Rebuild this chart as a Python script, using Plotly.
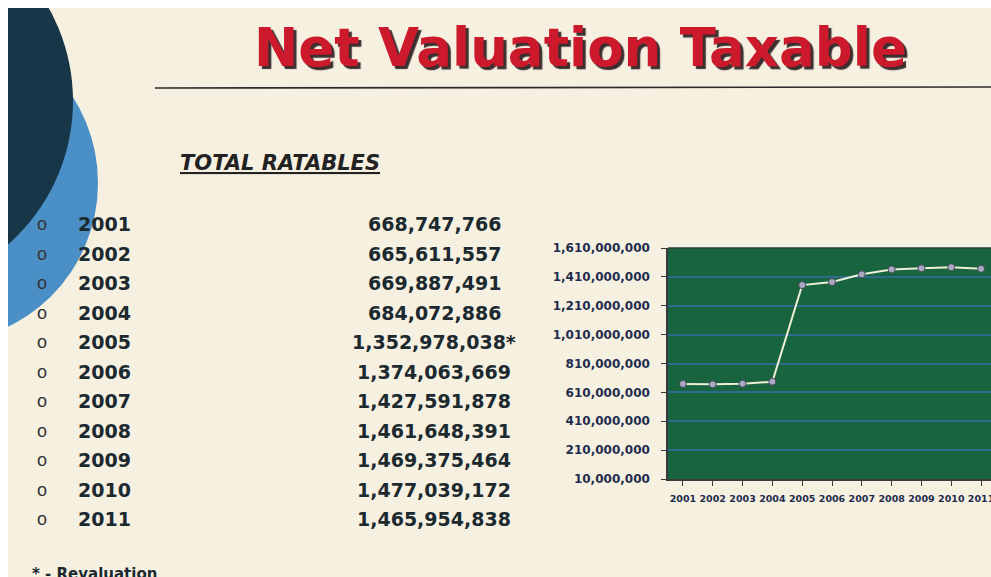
import plotly.graph_objects as go

years = ["2001", "2002", "2003", "2004", "2005", "2006", "2007", "2008", "2009", "2010", "2011"]
ratables = [668747766, 665611557, 669887491, 684072886, 1352978038, 1374063669,
            1427591878, 1461648391, 1469375464, 1477039172, 1465954838]
value_labels = ["668,747,766", "665,611,557", "669,887,491", "684,072,886", "1,352,978,038*",
                "1,374,063,669", "1,427,591,878", "1,461,648,391", "1,469,375,464",
                "1,477,039,172", "1,465,954,838"]
y_ticks = [10000000 + 200000000 * k for k in range(9)]
y_tick_labels = ["{:,}".format(v) for v in y_ticks]

W, H = 1000, 577
L, R, T, B = 668, 996, 248, 479


def px(x):
    return (x - L) / (R - L)


def py(y):
    return (B - y) / (B - T)


fig = go.Figure()
fig.add_trace(go.Scatter(
    x=list(range(len(years))), y=ratables, mode="lines+markers",
    line=dict(color="#eef0d6", width=2),
    marker=dict(symbol="circle", size=7, color="#a9a9c6", line=dict(color="#4a4a5a", width=1)),
    hoverinfo="skip", showlegend=False))

shapes = []


def circle(cx, cy, r, color):
    return dict(type="circle", xref="paper", yref="paper", layer="below",
                x0=px(cx - r), x1=px(cx + r), y0=py(cy + r), y1=py(cy - r),
                fillcolor=color, line=dict(width=0))


shapes.append(circle(-62, 183, 160, "#4b8fc7"))
shapes.append(circle(-118, 101, 191, "#173647"))
# white scan margins (top and left)
shapes.append(dict(type="rect", xref="paper", yref="paper", layer="below",
                   x0=px(-5), x1=px(8), y0=py(600), y1=py(-5), fillcolor="white", line=dict(width=0)))
shapes.append(dict(type="rect", xref="paper", yref="paper", layer="below",
                   x0=px(-5), x1=px(1005), y0=py(8), y1=py(-5), fillcolor="white", line=dict(width=0)))
# title rule
shapes.append(dict(type="line", xref="paper", yref="paper",
                   x0=px(155), x1=px(1010), y0=py(88), y1=py(87), line=dict(color="#2b2b2b", width=1.6)))
# top border of plot
shapes.append(dict(type="line", xref="paper", yref="paper",
                   x0=0, x1=1, y0=1, y1=1, line=dict(color="#2d3b3b", width=1.5)))

ann = []
ann.append(dict(text="Net Valuation Taxable", x=px(580), y=py(47), xref="paper", yref="paper",
                xanchor="center", yanchor="middle", showarrow=False,
                font=dict(family="DejaVu Sans", size=53, weight="bold", color="#cc1a2c",
                          shadow="3px 3px 1px #3b2e2e")))
ann.append(dict(text="TOTAL RATABLES", x=px(178), y=py(163), xref="paper", yref="paper",
                xanchor="left", yanchor="middle", showarrow=False,
                font=dict(family="DejaVu Sans", size=21, weight="bold", style="italic",
                          lineposition="under", color="#222222")))
row_y0, row_dy = 224, 29.5
for i, (yr, lab) in enumerate(zip(years, value_labels)):
    yy = row_y0 + i * row_dy
    ann.append(dict(text="o", x=px(42), y=py(yy), xref="paper", yref="paper",
                    xanchor="center", yanchor="middle", showarrow=False,
                    font=dict(family="Liberation Sans", size=18, color="#333333")))
    ann.append(dict(text=yr, x=px(76), y=py(yy), xref="paper", yref="paper",
                    xanchor="left", yanchor="middle", showarrow=False,
                    font=dict(family="DejaVu Sans", size=19, weight="bold", color="#1c2a30")))
    ann.append(dict(text=lab, x=px(434), y=py(yy), xref="paper", yref="paper",
                    xanchor="center", yanchor="middle", showarrow=False,
                    font=dict(family="DejaVu Sans", size=19, weight="bold", color="#1c2a30")))
ann.append(dict(text="* - Revaluation", x=px(30), y=py(574), xref="paper", yref="paper",
                xanchor="left", yanchor="middle", showarrow=False,
                font=dict(family="DejaVu Sans", size=15, weight="bold", color="#1c2a30")))

fig.update_layout(
    width=W, height=H, template="none",
    margin=dict(l=L, r=W - R, t=T, b=H - B, pad=0),
    paper_bgcolor="#f6f0e1", plot_bgcolor="#17643f",
    shapes=shapes, annotations=ann, showlegend=False,
    xaxis=dict(range=[-0.5, 10.5], tickvals=list(range(len(years))), ticktext=years,
               showgrid=False, zeroline=False, showline=True, linecolor="#3a3a3a", linewidth=1.5,
               ticks="outside", tickson="boundaries", ticklen=5, tickcolor="#3a3a3a",
               ticklabelstandoff=5, automargin=False,
               tickfont=dict(family="DejaVu Sans", size=9.5, weight="bold", color="#1e2d4d")),
    yaxis=dict(range=[10000000, 1610000000], tickvals=y_ticks, ticktext=y_tick_labels,
               showgrid=True, gridcolor="#2c6b8c", gridwidth=2, zeroline=False,
               showline=True, linecolor="#3a3a3a", linewidth=1.5,
               ticks="outside", ticklen=5, tickcolor="#3a3a3a", ticklabelstandoff=9,
               automargin=False,
               tickfont=dict(family="DejaVu Sans", size=12, weight="bold", color="#1e2d4d")),
)

fig.write_html("out.html", config={"displayModeBar": False},
               post_script="document.body.style.margin='0';document.body.style.overflow='hidden';")
